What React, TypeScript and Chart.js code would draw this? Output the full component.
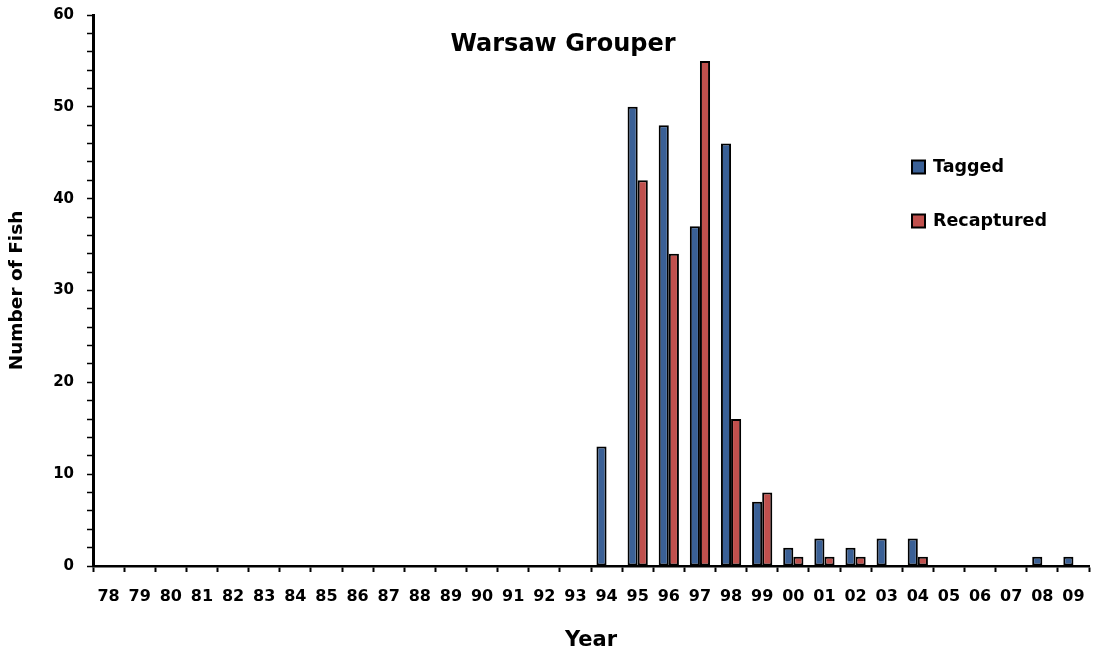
import React, { useEffect, useRef } from "react";
import { Chart, registerables } from "chart.js";

Chart.register(...registerables);

const years = ["78","79","80","81","82","83","84","85","86","87","88","89","90","91","92","93","94","95","96","97","98","99","00","01","02","03","04","05","06","07","08","09"];
const tagged = [0,0,0,0,0,0,0,0,0,0,0,0,0,0,0,0,13,50,48,37,46,7,2,3,2,3,3,0,0,0,1,1];
const recaptured = [0,0,0,0,0,0,0,0,0,0,0,0,0,0,0,0,0,42,34,55,16,8,1,1,1,0,1,0,0,0,0,0];
const seriesNames = ["Tagged", "Recaptured"];
const seriesColors = ["#3A6096", "#C0504D"];
const chartTitle = "Warsaw Grouper";
const FONT = "'DejaVu Sans', sans-serif";

const overlayPlugin = {
  id: "overlay",
  afterDraw(chart: any) {
    const ctx = chart.ctx;
    ctx.save();
    ctx.fillStyle = "#000";
    ctx.font = `bold 24px ${FONT}`;
    ctx.textAlign = "center";
    ctx.textBaseline = "middle";
    ctx.fillText(chartTitle, 563, 45);
    // legend
    const lx = 912;
    const ys = [167, 221];
    chart.data.datasets.forEach((ds: any, i: number) => {
      const y = ys[i];
      ctx.fillStyle = ds.backgroundColor;
      ctx.fillRect(lx, y - 6.5, 13, 13);
      ctx.strokeStyle = "#000";
      ctx.lineWidth = 2;
      ctx.strokeRect(lx, y - 6.5, 13, 13);
      ctx.fillStyle = "#000";
      ctx.font = `bold 17.5px ${FONT}`;
      ctx.textAlign = "left";
      ctx.fillText(ds.label, lx + 21, y);
    });
    ctx.restore();
  },
};

export default function App() {
  const ref = useRef<HTMLCanvasElement | null>(null);
  useEffect(() => {
    document.body.style.margin = "0";
    const canvas = ref.current!;
    const chart = new Chart(canvas, {
      type: "bar",
      data: {
        labels: years,
        datasets: [
          { label: seriesNames[0], data: tagged, backgroundColor: seriesColors[0], borderColor: "#000", borderWidth: 2, borderSkipped: false },
          { label: seriesNames[1], data: recaptured, backgroundColor: seriesColors[1], borderColor: "#000", borderWidth: 2, borderSkipped: false },
        ],
      },
      options: {
        responsive: false,
        animation: false,
        layout: { padding: { left: 0, right: 5, top: 15, bottom: 0 } },
        datasets: { bar: { categoryPercentage: 0.65, barPercentage: 1.0 } },
        plugins: { legend: { display: false }, tooltip: { enabled: false }, title: { display: false } },
        scales: {
          x: {
            offset: true,
            grid: { offset: true, drawOnChartArea: false, drawTicks: true, tickLength: 6, tickColor: "#000", tickWidth: 2 },
            border: { display: true, color: "#000", width: 2.5 },
            ticks: { color: "#000", font: { family: FONT, weight: "bold", size: 16 }, maxRotation: 0, autoSkip: false, padding: 15 },
            title: { display: true, text: "Year", color: "#000", font: { family: FONT, weight: "bold", size: 21 }, padding: { top: 4, bottom: 2 } },
            afterFit: (s: any) => { s.height = 89; s.paddingLeft = 0; s.paddingRight = 0; },
          },
          y: {
            min: 0,
            max: 60,
            grid: { drawOnChartArea: false, drawTicks: true, tickLength: 6, tickColor: "#000", tickWidth: 1.5 },
            border: { display: true, color: "#000", width: 3 },
            ticks: {
              stepSize: 2,
              autoSkip: false,
              color: "#000",
              padding: 13,
              font: { family: FONT, weight: "bold", size: 15 },
              callback: (v: any) => (Number(v) % 10 === 0 ? String(v) : ""),
            },
            title: { display: true, text: "Number of Fish", color: "#000", font: { family: FONT, weight: "bold", size: 18.5 }, padding: { top: 6, bottom: 4 } },
            afterFit: (s: any) => { s.width = 93; s.paddingTop = 0; s.paddingBottom = 0; },
          },
        },
      },
      plugins: [overlayPlugin],
    } as any);
    return () => chart.destroy();
  }, []);
  return (
    <div style={{ width: 1094, height: 655 }}>
      <canvas ref={ref} width={1094} height={655} style={{ display: "block" }} />
    </div>
  );
}
